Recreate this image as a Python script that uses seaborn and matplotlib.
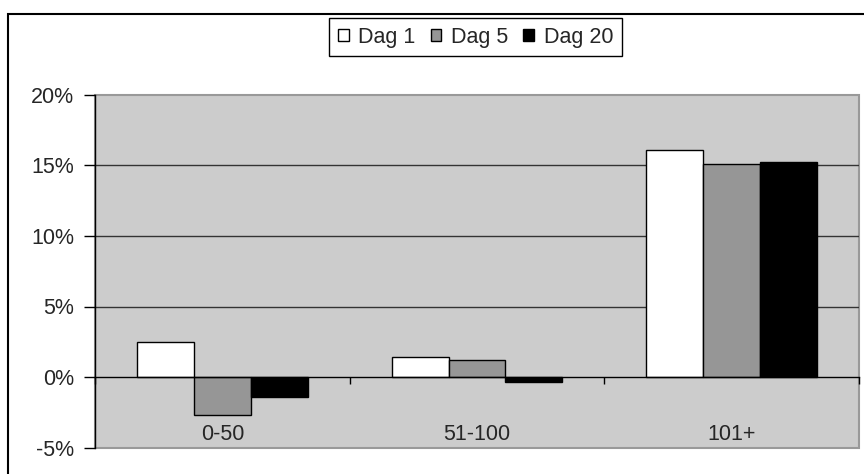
import pandas as pd
import matplotlib.pyplot as plt
import matplotlib.ticker as mticker
from matplotlib.patches import Rectangle
import seaborn as sns

# Werte (in %)
groepen = ['0-50', '51-100', '101+']
dagen = ['Dag 1', 'Dag 5', 'Dag 20']
dag_1 = [2.46, 1.39, 16.1]
dag_5 = [-2.7, 1.18, 15.1]
dag_20 = [-1.42, -0.37, 15.2]
kleuren = ['#ffffff', '#969696', '#000000']

df = pd.DataFrame({
    'groep': groepen * 3,
    'dag': [d for d in dagen for _ in groepen],
    'waarde': dag_1 + dag_5 + dag_20,
})

sns.set_style('white')
plt.rcParams['font.family'] = ['Liberation Sans', 'DejaVu Sans']
plt.rcParams['axes.unicode_minus'] = False

fig = plt.figure(figsize=(8.64, 4.74), dpi=100)
ax = fig.add_axes([95 / 864, 1 - 447.7 / 474, 764 / 864, (447.7 - 94.7) / 474])
ax.set_facecolor('#cccccc')

sns.barplot(data=df, x='groep', y='waarde', hue='dag', order=groepen,
            hue_order=dagen, palette=kleuren, edgecolor='black', linewidth=1,
            width=0.67, saturation=1, ax=ax, zorder=3)

ax.set_xlim(-0.5, 2.5)
ax.set_ylim(-5, 20)
ax.set_yticks([-5, 0, 5, 10, 15, 20])
ax.yaxis.set_major_formatter(mticker.PercentFormatter(decimals=0))
ax.set_xlabel('')
ax.set_ylabel('')

# rasterlijnen
for v in [5, 10, 15]:
    ax.axhline(v, color='#333333', lw=1, zorder=1)

# randen
ax.patch.set_edgecolor('#999999')
ax.patch.set_linewidth(1.5)
for s in ['top', 'right']:
    ax.spines[s].set_visible(False)
ax.spines['left'].set_color('black')
ax.spines['left'].set_linewidth(1)
ax.spines['bottom'].set_position(('data', 0))
ax.spines['bottom'].set_color('black')
ax.spines['bottom'].set_linewidth(1)
ax.spines['bottom'].set_zorder(4)

# x-as: streepjes tussen de groepen, labels onderaan
ax.set_xticks([-0.5, 0.5, 1.5, 2.5])
ax.set_xticklabels([])
ax.set_xticks([0, 1, 2], minor=True)
ax.set_xticklabels(groepen, minor=True)
ax.tick_params(axis='x', which='major', direction='out', length=5, width=1,
               color='black', bottom=True)
ax.tick_params(axis='x', which='minor', length=0, pad=34, labelsize=15.5,
               bottom=True)
ax.tick_params(axis='y', direction='out', length=8, width=1, color='black',
               left=True, pad=7, labelsize=15.5)

# legenda
handles, labels = ax.get_legend_handles_labels()
ax.legend(handles, labels, loc='center', bbox_to_anchor=(475.5 / 864, 1 - 37 / 474),
          bbox_transform=fig.transFigure, ncol=3, frameon=True, fancybox=False,
          edgecolor='black', framealpha=1, fontsize=15.5, handlelength=0.5,
          handleheight=0.5, handletextpad=0.45, columnspacing=0.7,
          borderpad=0.4, borderaxespad=0)
ax.get_legend().get_frame().set_linewidth(1)

# kader rond de figuur
fig.patches.append(Rectangle((8 / 864, -1), 2, 2 - 14 / 474, transform=fig.transFigure,
                             fill=False, edgecolor='black', lw=1.5))

fig.savefig('out.png', dpi=100)
